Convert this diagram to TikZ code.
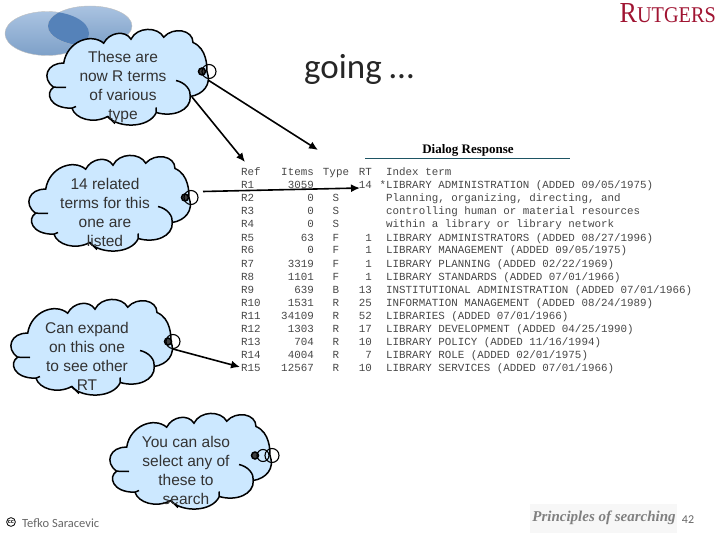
\documentclass[tikz,border=0pt]{standalone}
\usepackage{fontspec}
\setmainfont{Liberation Sans}
\newfontfamily\slidefont{Carlito}
\newfontfamily\logofont{Liberation Serif}
\newfontfamily\tablefont{Liberation Mono}
\usetikzlibrary{arrows.meta}
\definecolor{cloudblue}{RGB}{204,232,255}
\definecolor{rutgersred}{RGB}{160,20,50}
\definecolor{dialogteal}{RGB}{30,85,100}
\definecolor{ovaltop}{RGB}{170,195,225}
\definecolor{ovalbottom}{RGB}{125,160,200}
\definecolor{ovaldeep}{RGB}{85,130,185}
\tikzset{
	cloudline/.style={line width=1.5pt, color=black},
	cloudtext/.style={inner sep=0pt, align=center, text=black!80, font=\fontsize{15.5}{19}\selectfont},
	pointer/.style={line width=1.6pt, -{Latex[length=9pt,width=8pt]}},
	termcell/.style={inner sep=0pt, text=black!72, font=\tablefont\fontsize{10.85}{13}\selectfont},
	oval/.style={draw=black!25, top color=ovaltop, bottom color=ovalbottom},
}
\def\thoughtcloud(#1,#2)#3#4#5{
	\begin{scope}[shift={(#1,#2)}]
		\draw[cloudline, fill=cloudblue] (-59.3,-23.3) .. controls (-56,-45) and (-32,-54) .. (-19.3,-43.3)
			.. controls (-14,-54) and (2,-57) .. (8,-47.3)
			.. controls (14,-60) and (35,-60) .. (40.7,-49.3)
			.. controls (50,-60) and (70,-57) .. (70,-44)
			.. controls (84,-38) and (84,-20) .. (84,-15)
			.. controls (89,-2) and (80,8) .. (67.3,10)
			.. controls (68,24) and (50,31) .. (33.3,26)
			.. controls (26,42) and (-5,42) .. (-15.3,30)
			.. controls (-30,38) and (-48,32) .. (-51,21.7)
			.. controls (-74,22) and (-78,6) .. (-69.3,0.7)
			.. controls (-82,-8) and (-76,-24) .. (-59.3,-23.3) -- cycle;
		\draw[cloudline] (53,-6) .. controls (62,-4) and (68,3) .. (67.3,10);
		\draw[cloudline] (-69.3,0.7) -- (-57,1);
		\draw[cloudline] (-15.3,30) -- (-8,37);
		\draw[cloudline] (33.3,26) -- (33,21);
		\draw[cloudline] (-51,21.7) -- (-47,20);
		\draw[cloudline, fill=black!75] (#5,-15) circle (3.5);
		\draw[line width=1.1pt] (86,-15) circle (7);
		\node[cloudtext] (#3) at (0,0) {#4};
	\end{scope}
}
\def\termrow(#1)#2#3#4#5#6#7{
	\node[termcell, anchor=base west] (ref#7) at (241,#1+3.5) {#2};
	\node[termcell, anchor=base east] (items#7) at (314,#1+3.5) {#3};
	\node[termcell, anchor=base] (type#7) at (336,#1+3.5) {#4};
	\node[termcell, anchor=base east] (rt#7) at (372,#1+3.5) {#5};
	\node[termcell, anchor=base west] (term#7) at (386,#1+3.5) {#6};
}

\begin{document}
\begin{tikzpicture}[x=1pt, y=-1pt]
			%%%%% START %%%%%
			\useasboundingbox (0,0) rectangle (720,540);
			
			% overlapping ovals
			\draw[oval] (47,33.5) ellipse (42 and 22);
			\draw[oval] (90,26) ellipse (42 and 20);
			\begin{scope}
				\clip (47,33.5) ellipse (42 and 22);
				\fill[ovaldeep] (90,26) ellipse (42 and 20);
			\end{scope}
			
			% logo
			\node[inner sep=0pt, anchor=base east, text=rutgersred, xscale=0.9, font=\logofont] (rutgers) at (716,22.5) {\fontsize{29}{30}\selectfont R\fontsize{22.5}{23}\selectfont UTGERS};
			
			\node[inner sep=0pt, font=\slidefont\fontsize{35}{40}\selectfont, text=black!85] (going) at (359,69) {going …};
			
			% dialog table
			\node[inner sep=0pt, text=black, font=\logofont\bfseries\fontsize{13}{14}\selectfont] (dialog) at (468,150) {Dialog Response};
			\coordinate (ruleleft) at (365,159);
			\coordinate (ruleright) at (570,159);
			\draw[line width=1pt, color=dialogteal] (ruleleft) -- (ruleright);
			
			\termrow(172){Ref}{Items}{Type}{RT}{Index term}{0}
			\termrow(185){R1}{3059}{}{14}{\llap{*}LIBRARY ADMINISTRATION (ADDED 09/05/1975)}{1}
			\termrow(198){R2}{0}{S}{}{Planning, organizing, directing, and}{2}
			\termrow(211){R3}{0}{S}{}{controlling human or material resources}{3}
			\termrow(224){R4}{0}{S}{}{within a library or library network}{4}
			\termrow(237.5){R5}{63}{F}{1}{LIBRARY ADMINISTRATORS (ADDED 08/27/1996)}{5}
			\termrow(250.5){R6}{0}{F}{1}{LIBRARY MANAGEMENT (ADDED 09/05/1975)}{6}
			\termrow(263.5){R7}{3319}{F}{1}{LIBRARY PLANNING (ADDED 02/22/1969)}{7}
			\termrow(276.5){R8}{1101}{F}{1}{LIBRARY STANDARDS (ADDED 07/01/1966)}{8}
			\termrow(289.5){R9}{639}{B}{13}{INSTITUTIONAL ADMINISTRATION (ADDED 07/01/1966)}{9}
			\termrow(302.5){R10}{1531}{R}{25}{INFORMATION MANAGEMENT (ADDED 08/24/1989)}{10}
			\termrow(316){R11}{34109}{R}{52}{LIBRARIES (ADDED 07/01/1966)}{11}
			\termrow(329){R12}{1303}{R}{17}{LIBRARY DEVELOPMENT (ADDED 04/25/1990)}{12}
			\termrow(342){R13}{704}{R}{10}{LIBRARY POLICY (ADDED 11/16/1994)}{13}
			\termrow(355){R14}{4004}{R}{7}{LIBRARY ROLE (ADDED 02/01/1975)}{14}
			\termrow(368){R15}{12567}{R}{10}{LIBRARY SERVICES (ADDED 07/01/1966)}{15}
			
			% clouds
			\thoughtcloud(123,86.5){cloudtype}{These are\\now R terms\\of various\\type}{79}
			\thoughtcloud(105,212.5){cloudlisted}{14 related\\terms for this\\one are\\listed}{80}
			\thoughtcloud(87,356.5){cloudexpand}{Can expand\\on this one\\to see other\\RT}{81}
			\thoughtcloud(186,470.5){cloudselect}{You can also\\select any of\\these to\\search}{69}
			\draw[line width=1.1pt] (263,455.5) circle (6);
			
			% pointers
			\coordinate (typetail) at (208,80);
			\coordinate (typetip) at (318,150);
			\coordinate (reftail) at (192,97);
			\coordinate (reftip) at (245,162);
			\coordinate (listedtail) at (203,191.5);
			\coordinate (listedtip) at (360,188);
			\coordinate (expandtail) at (173,349);
			\coordinate (expandtip) at (240,367);
			\draw[pointer] (typetail) -- (typetip);
			\draw[pointer] (reftail) -- (reftip);
			\draw[pointer] (listedtail) -- (listedtip);
			\draw[pointer] (expandtail) -- (expandtip);
			
			% footer
			\node[draw, circle, line width=0.8pt, inner sep=0.7pt, font=\bfseries\fontsize{5.5}{6}\selectfont] (ccmark) at (11,522) {cc};
			\node[inner sep=0pt, anchor=west, text=black!60, font=\slidefont\fontsize{12.5}{14}\selectfont] (tefko) at (22,523.5) {Tefko Saracevic};
			\fill[black!3] (530,504) rectangle (677,533);
			\node[inner sep=0pt, text=black!50, font=\logofont\itshape\bfseries\fontsize{15}{18}\selectfont] (principles) at (604,518) {Principles of searching};
			\node[inner sep=0pt, text=black!60, font=\slidefont\fontsize{12}{14}\selectfont] (pagenum) at (688,520) {42};
			
			%%%%% END %%%%%
		\end{tikzpicture}
\end{document}
